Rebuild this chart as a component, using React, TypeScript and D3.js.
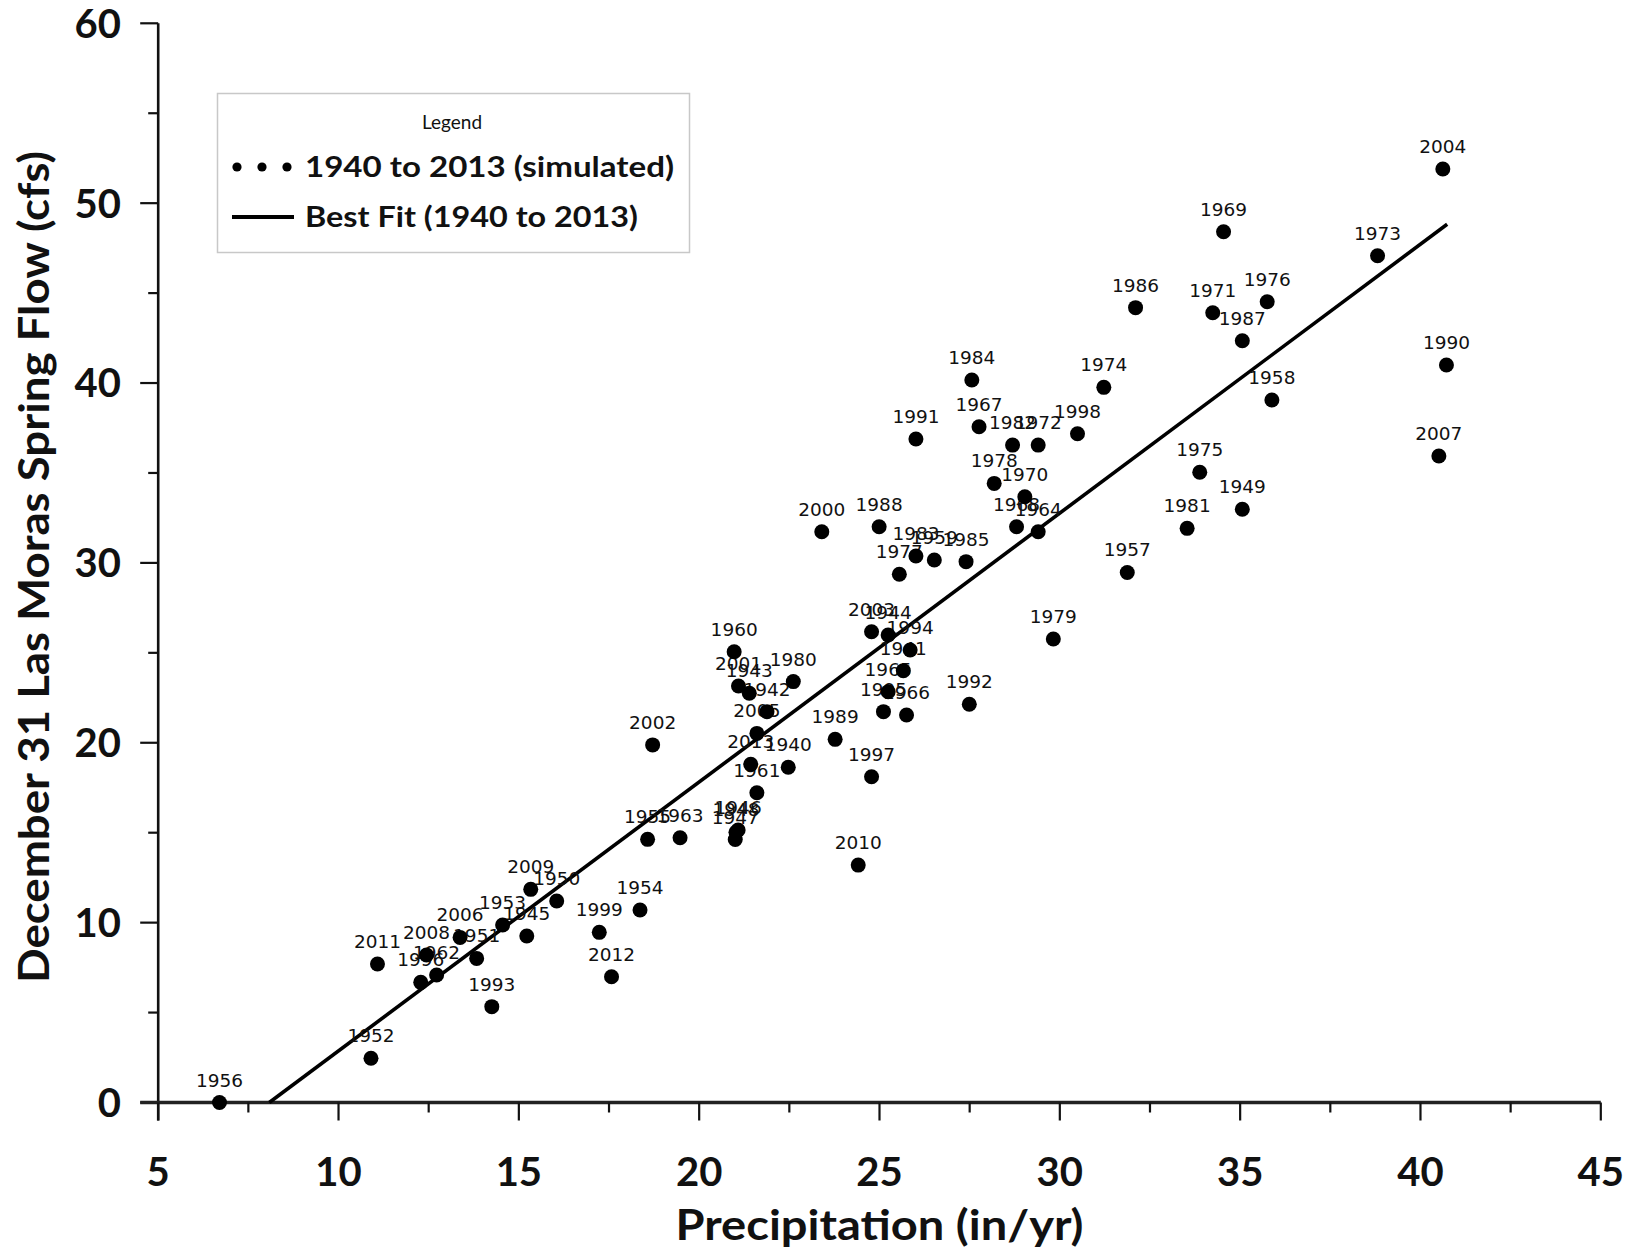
import React from "react";
import * as d3 from "d3";

// Annual precipitation (in/yr) against December 31 Las Moras spring flow (cfs), 1940-2013
const years = [
  1940, 1941, 1942, 1943, 1944, 1945, 1946, 1947, 1948, 1949,
  1950, 1951, 1952, 1953, 1954, 1955, 1956, 1957, 1958, 1959,
  1960, 1961, 1962, 1963, 1964, 1965, 1966, 1967, 1968, 1969,
  1970, 1971, 1972, 1973, 1974, 1975, 1976, 1977, 1978, 1979,
  1980, 1981, 1982, 1983, 1984, 1985, 1986, 1987, 1988, 1989,
  1990, 1991, 1992, 1993, 1994, 1995, 1996, 1997, 1998, 1999,
  2000, 2001, 2002, 2003, 2004, 2005, 2006, 2007, 2008, 2009,
  2010, 2011, 2012, 2013,
];

const precipitation = [
  22.47, 25.66, 21.88, 21.39, 25.24, 15.22, 21.08, 21.0, 21.02, 35.06,
  16.05, 13.83, 10.9, 14.55, 18.36, 18.57, 6.7, 31.87, 35.88, 26.52,
  20.97, 21.6, 12.72, 19.47, 29.4, 25.24, 25.75, 27.76, 28.8, 34.54,
  29.03, 34.24, 29.4, 38.81, 31.22, 33.88, 35.75, 25.55, 28.18, 29.82,
  22.61, 33.53, 28.69, 26.01, 27.56, 27.4, 32.1, 35.06, 24.99, 23.77,
  40.72, 26.01, 27.49, 14.25, 25.85, 25.11, 12.28, 24.78, 30.49, 17.23,
  23.4, 21.09, 18.71, 24.78, 40.62, 21.6, 13.37, 40.51, 12.44, 15.33,
  24.41, 11.08, 17.57, 21.43,
];

const springFlow = [
  18.64, 24.01, 21.73, 22.75, 25.99, 9.26, 15.15, 14.62, 15.02, 32.98,
  11.2, 8.01, 2.46, 9.87, 10.7, 14.63, 0, 29.47, 39.06, 30.16,
  25.06, 17.22, 7.09, 14.72, 31.73, 22.84, 21.54, 37.57, 32.01, 48.41,
  33.68, 43.91, 36.55, 47.08, 39.76, 35.04, 44.52, 29.37, 34.42, 25.77,
  23.4, 31.92, 36.55, 30.38, 40.17, 30.07, 44.19, 42.35, 32.01, 20.19,
  41.0, 36.89, 22.14, 5.33, 25.16, 21.73, 6.68, 18.11, 37.18, 9.46,
  31.73, 23.16, 19.88, 26.17, 51.9, 20.52, 9.18, 35.94, 8.2, 11.85,
  13.2, 7.7, 6.99, 18.8,
];

// Best-fit line over the simulated record
const fitSlope = 1.495;
const fitIntercept = -12.08;
const fitRange = [8.08, 40.74];

const xMajorTicks = [5, 10, 15, 20, 25, 30, 35, 40, 45];
const xMinorTicks = [7.5, 12.5, 17.5, 22.5, 27.5, 32.5, 37.5, 42.5];
const yMajorTicks = [0, 10, 20, 30, 40, 50, 60];
const yMinorTicks = [5, 15, 25, 35, 45, 55];

const xTitle = "Precipitation (in/yr)";
const yTitle = "December 31 Las Moras Spring Flow (cfs)";
const legendTitle = "Legend";
const legendPoints = "1940 to 2013 (simulated)";
const legendFit = "Best Fit (1940 to 2013)";

const SANS = "Lato, 'Open Sans', 'DejaVu Sans', sans-serif";
const LABEL_FONT = "'DejaVu Sans', sans-serif";

export default function App() {
  const W = 1632;
  const H = 1260;
  const x = d3.scaleLinear().domain([5, 45]).range([158.2, 1600.8]);
  const y = d3.scaleLinear().domain([0, 60]).range([1102.5, 23.3]);

  const points = years.map((yr, i) => ({
    year: yr,
    px: x(precipitation[i]),
    py: y(springFlow[i]),
  }));

  const fitLine = d3
    .line<number>()
    .x((v) => x(v))
    .y((v) => y(fitSlope * v + fitIntercept));

  const x0 = x(5);
  const yBase = y(0);
  const majorLen = 18;
  const minorLen = 10;

  return (
    <svg
      width={W}
      height={H}
      viewBox={`0 0 ${W} ${H}`}
      style={{ position: "absolute", left: 0, top: 0, background: "#fff" }}
    >
      <rect x={0} y={0} width={W} height={H} fill="#fff" />

      {/* y axis */}
      <line x1={x0} x2={x0} y1={y(60)} y2={yBase + majorLen} stroke="#111" strokeWidth={2.6} />
      {yMajorTicks.map((t) => (
        <line key={`ymj${t}`} x1={x0 - majorLen} x2={x0} y1={y(t)} y2={y(t)} stroke="#111" strokeWidth={2.2} />
      ))}
      {yMinorTicks.map((t) => (
        <line key={`ymn${t}`} x1={x0 - minorLen} x2={x0} y1={y(t)} y2={y(t)} stroke="#111" strokeWidth={2.2} />
      ))}
      {yMajorTicks.map((t) => (
        <text
          key={`ylab${t}`}
          x={121}
          y={y(t)}
          dy="0.36em"
          textAnchor="end"
          fontFamily={SANS}
          fontWeight={700}
          fontSize={40}
          fill="#111"
        >
          {t}
        </text>
      ))}

      {/* x axis */}
      <line x1={x0 - majorLen} x2={x(45)} y1={yBase} y2={yBase} stroke="#222" strokeWidth={3.4} />
      {xMajorTicks.map((t) => (
        <line key={`xmj${t}`} x1={x(t)} x2={x(t)} y1={yBase} y2={yBase + majorLen} stroke="#111" strokeWidth={2.2} />
      ))}
      {xMinorTicks.map((t) => (
        <line key={`xmn${t}`} x1={x(t)} x2={x(t)} y1={yBase} y2={yBase + minorLen} stroke="#111" strokeWidth={2.2} />
      ))}
      {xMajorTicks.map((t) => (
        <text
          key={`xlab${t}`}
          x={x(t)}
          y={1186}
          textAnchor="middle"
          fontFamily={SANS}
          fontWeight={700}
          fontSize={40}
          fill="#111"
        >
          {t}
        </text>
      ))}

      {/* axis titles */}
      <text
        x={x(25)}
        y={1240}
        textAnchor="middle"
        fontFamily={SANS}
        fontWeight={700}
        fontSize={42}
        textLength={408}
        lengthAdjust="spacingAndGlyphs"
        fill="#111"
      >
        {xTitle}
      </text>
      <text
        transform={`translate(49, 567) rotate(-90)`}
        textAnchor="middle"
        fontFamily={SANS}
        fontWeight={700}
        fontSize={42}
        textLength={832}
        lengthAdjust="spacingAndGlyphs"
        fill="#111"
      >
        {yTitle}
      </text>

      {/* best-fit line */}
      <path d={fitLine(fitRange) ?? ""} fill="none" stroke="#000" strokeWidth={3.6} />

      {/* year labels, then markers on top */}
      {points.map((p) => (
        <text
          key={`lab${p.year}`}
          x={p.px}
          y={p.py - 16}
          textAnchor="middle"
          fontFamily={LABEL_FONT}
          fontSize={18.5}
          fill="#111"
        >
          {p.year}
        </text>
      ))}
      {points.map((p) => (
        <circle key={`pt${p.year}`} cx={p.px} cy={p.py} r={7.5} fill="#000" />
      ))}

      {/* legend */}
      <rect x={217.5} y={93.5} width={472} height={159} fill="#fff" stroke="#c8c8c8" strokeWidth={1.5} />
      <text x={452} y={129} textAnchor="middle" fontFamily={SANS} fontSize={19} fill="#111">
        {legendTitle}
      </text>
      {[237, 262, 287].map((cx) => (
        <circle key={`lg${cx}`} cx={cx} cy={167} r={4.6} fill="#000" />
      ))}
      <text
        x={305}
        y={177}
        fontFamily={SANS}
        fontWeight={700}
        fontSize={28}
        textLength={369}
        lengthAdjust="spacingAndGlyphs"
        fill="#111"
      >
        {legendPoints}
      </text>
      <line x1={232} x2={294} y1={217} y2={217} stroke="#000" strokeWidth={4} />
      <text
        x={305}
        y={227}
        fontFamily={SANS}
        fontWeight={700}
        fontSize={28}
        textLength={333}
        lengthAdjust="spacingAndGlyphs"
        fill="#111"
      >
        {legendFit}
      </text>
    </svg>
  );
}
